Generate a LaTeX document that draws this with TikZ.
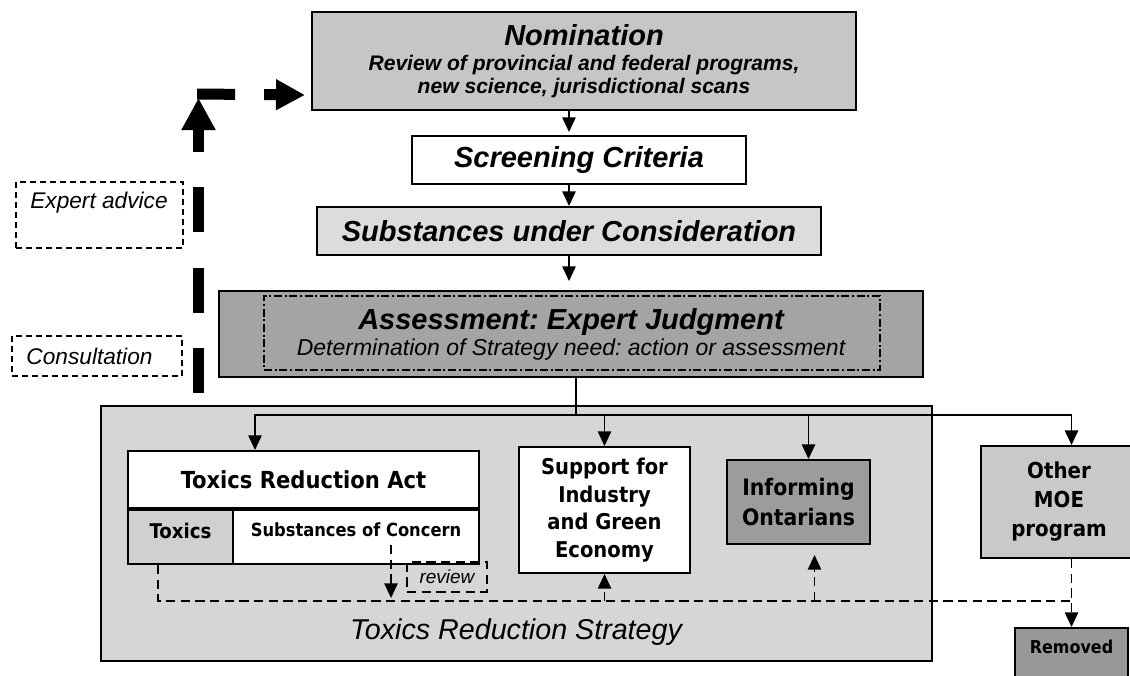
\documentclass[tikz,border=0pt]{standalone}
\usepackage{fontspec}
\setmainfont{Liberation Sans}
\newfontfamily\tahfont{DejaVu Sans Condensed}
\usetikzlibrary{arrows.meta,calc}
\frenchspacing
\newlength\pxu
\setlength\pxu{0.75pt}
\definecolor{nomfill}{HTML}{C6C6C6}
\definecolor{subfill}{HTML}{DCDCDC}
\definecolor{asmfill}{HTML}{A4A4A4}
\definecolor{strfill}{HTML}{D6D6D6}
\definecolor{toxfill}{HTML}{D0D0D0}
\definecolor{inffill}{HTML}{9C9C9C}
\definecolor{othfill}{HTML}{C9C9C9}
\definecolor{remfill}{HTML}{989898}
\begin{document}
\begin{tikzpicture}[x=0.75pt,y=-0.75pt,
  box/.style={draw=black, line width=1.5pt, inner sep=0pt, align=center},
  dbox/.style={draw=black, line width=1pt, dash pattern=on 4.5pt off 3pt, inner sep=0pt},
  ln/.style={draw=black, line width=1.3pt},
  arr/.style={ln, -{Triangle[width=10pt,length=11pt]}},
  dsh/.style={draw=black, line width=1.3pt, dash pattern=on 7pt off 4pt},
  dsharr/.style={dsh, -{Triangle[width=10pt,length=11pt]}},
  fb/.style={draw=black, line width=8.25pt},
  hd/.style={font=\bfseries\itshape\fontsize{21.75}{26}\selectfont},
  side/.style={font=\itshape\fontsize{17}{20}\selectfont},
  tb/.style={font=\tahfont\bfseries\fontsize{#1}{#1}\selectfont}
]
\useasboundingbox (0,0) rectangle (1130,675);
\fill[white] (0,0) rectangle (1130,675);

% ---- main column ----
\node[box, fill=nomfill, minimum width=544\pxu, minimum height=98\pxu,
      font=\bfseries\itshape\fontsize{15.8}{17.25}\selectfont] (nom) at (584,61)
  {{\fontsize{21.75}{26}\selectfont Nomination}\\[1.5pt]
   Review of provincial and federal programs,\\ new science, jurisdictional scans};
\node[box, fill=white, minimum width=334\pxu, minimum height=48\pxu, hd] (scr) at (579,160) {Screening Criteria};
\node[box, fill=subfill, minimum width=504\pxu, minimum height=48\pxu, hd] (sub) at (569,231) {Substances under Consideration};
\node[box, fill=asmfill, minimum width=704\pxu, minimum height=86\pxu,
      font=\itshape\fontsize{17.25}{19.4}\selectfont] (asm) at (571,334)
  {{\bfseries\fontsize{21.75}{26}\selectfont Assessment: Expert Judgment}\\
   Determination of Strategy need: action or assessment};
\node[draw=black, line width=1pt, dash pattern=on 6pt off 2pt on 1.5pt off 2pt,
      minimum width=616\pxu, minimum height=74\pxu, inner sep=0pt] (asmin) at (572,333) {};

\draw[arr, shorten >=3\pxu] (nom.south -| sub.north) -- (scr.north -| sub.north);
\draw[arr] (scr.south -| sub.north) -- (sub.north);
\draw[arr, shorten >=9\pxu] (sub.south) -- (sub.south |- asm.north);

% ---- strategy frame ----
\node[box, fill=strfill, minimum width=831\pxu, minimum height=255\pxu] (str) at (516.5,533.5) {};
\node[font=\itshape\fontsize{21.5}{25}\selectfont] (strlbl) at (516,632) {Toxics Reduction Strategy};

% Toxics Reduction Act table
\node[box, fill=white, minimum width=351\pxu, minimum height=57\pxu, tb=17.6] (tra) at (303.5,479.5) {Toxics Reduction Act};
\node[box, fill=toxfill, minimum width=105\pxu, minimum height=54\pxu, anchor=north west] (tox) at (tra.south west) {};
\node[box, fill=white, minimum width=246\pxu, minimum height=54\pxu, anchor=north east] (soc) at (tra.south east) {};
\node[tb=15.2] (toxt) at ($(tox.center)+(0,-6)$) {Toxics};
\node[tb=13.6] (soct) at ($(soc.center)+(0,-7)$) {Substances of Concern};
\node[dbox, dash pattern=on 7pt off 4pt, line width=1.3pt, minimum width=80\pxu, minimum height=30\pxu,
      font=\itshape\fontsize{14.25}{16}\selectfont] (rev) at (447,577) {review};

% program boxes
\node[box, fill=white, minimum width=171\pxu, minimum height=126\pxu,
      font=\tahfont\bfseries\fontsize{16.3}{20.6}\selectfont] (sup) at (604.5,510) {Support for\\Industry\\and Green\\Economy};
\node[box, fill=inffill, minimum width=143\pxu, minimum height=84\pxu,
      font=\tahfont\bfseries\fontsize{17}{22.5}\selectfont] (inf) at (798.5,502) {Informing\\Ontarians};
\node[box, fill=othfill, minimum width=156\pxu, minimum height=112\pxu,
      font=\tahfont\bfseries\fontsize{16.5}{21.75}\selectfont] (oth) at (1059,502) {Other\\MOE\\program};
\node[box, fill=remfill, minimum width=113\pxu, minimum height=52\pxu] (rem) at (1071.5,654) {};
\node[tb=13.3] (remt) at (1071.5,647) {Removed};

% distribution from the assessment
\coordinate (hub) at (576,415);
\draw[ln] (asm.south -| hub) -- (hub);
\draw[arr] (hub) -| ($(tra.north west)+(128,0)$);
\draw[arr] (hub) -| (sup.north);
\draw[arr] (hub) -| ($(inf.north)+(10,0)$);
\draw[arr] (hub) -| (oth.north -| rem.north);

% dashed review loop
\coordinate (loopR) at (1071.5,601);
\coordinate (infport) at ($(inf.south)+(16,10)$);
\coordinate (socport) at ($(soc.south west)+(159,-20)$);
\draw[dsh] ($(tox.south west)+(31,0)$) |- (loopR);
\draw[dsharr] (oth.south -| rem.north) -- (rem.north);
\draw[dsharr] (sup.south |- loopR) -- (sup.south);
\draw[dsharr] (infport |- loopR) -- (infport);
\draw[dsharr] (socport) -- ++(0,53);

% ---- input side ----
\node[dbox, fill=white, minimum width=167\pxu, minimum height=66\pxu] (expb) at (99.5,215) {};
\node[side] (expt) at (99,203) {Expert advice};
\node[dbox, fill=white, minimum width=170\pxu, minimum height=40\pxu] (conb) at (97,356) {};
\node[side] (cont) at (89.5,356) {Consultation};

% feedback into nomination
\coordinate (fbstart) at (198.5,393);
\coordinate (fbcorner) at (198.5,94);
\coordinate (fbend) at ($(nom.south west)+(-6,-16)$);
\draw[fb, dash pattern=on 33.75pt off 26.6pt, -{Triangle[width=24pt,length=24pt]}]
  (fbstart) -- ([yshift=-3pt]fbcorner);
\draw[fb, dash pattern=on 28.5pt off 21.75pt, -{Triangle[width=21.75pt,length=21.75pt]}]
  ([xshift=-1pt]fbcorner) -- (fbend);
\end{tikzpicture}
\end{document}
